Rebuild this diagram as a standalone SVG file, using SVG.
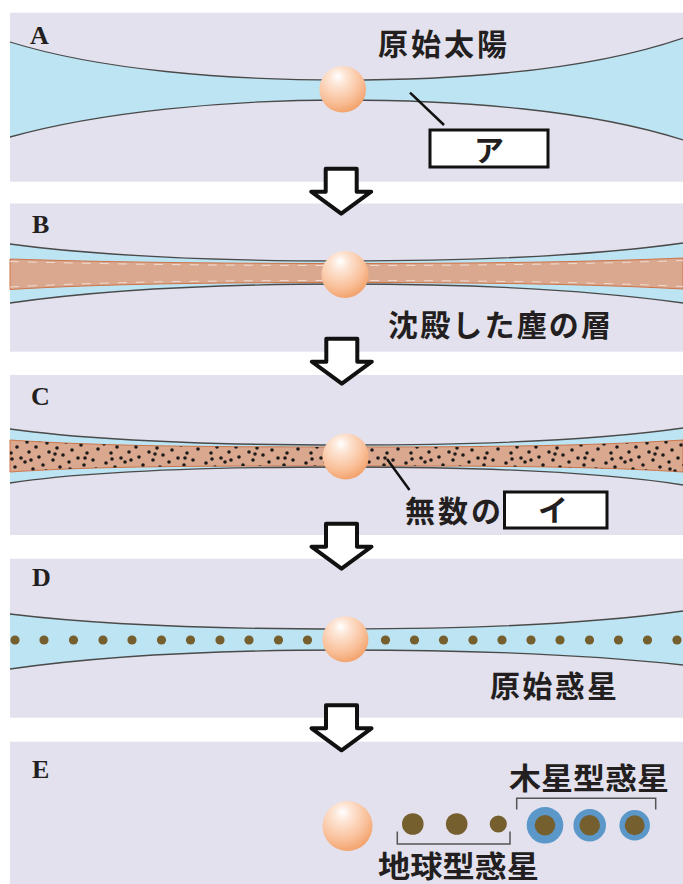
<svg xmlns="http://www.w3.org/2000/svg" width="683" height="884" viewBox="0 0 683 884">
  <defs>
    <style>
      .panel { fill: #e3e1ee; }
      .disk { fill: #bce4f3; }
      .edge { fill: none; stroke: #4a4a4a; stroke-width: 1.3; }
      .dust { fill: #d9a88f; stroke: #cf7448; stroke-width: 1; }
      .dash { fill: none; stroke: #ffffff; stroke-width: 1; stroke-dasharray: 9 9; opacity: 0.6; }
      .tag { font-family: "Liberation Serif", "DejaVu Serif", serif; font-size: 26px; font-weight: bold; fill: #231f20; }
      .jp { font-family: "Noto Sans CJK JP", "Noto Sans CJK SC", sans-serif; font-size: 30px; font-weight: bold; fill: #231f20; }
      .box { fill: #ffffff; stroke: #111111; stroke-width: 3; }
      .lead { stroke: #111111; stroke-width: 2.5; fill: none; }
      .arrow { fill: #ffffff; stroke: #111111; stroke-width: 4; stroke-linejoin: round; }
      .rock { fill: #765f2f; }
      .gas { fill: #5b98c9; }
      .brace { fill: none; stroke: #555555; stroke-width: 1.5; }
    </style>
    <radialGradient id="sunGrad" cx="0.38" cy="0.3" r="0.8" fx="0.4" fy="0.22">
      <stop offset="0" stop-color="#ffffff"/>
      <stop offset="0.22" stop-color="#fde5d5"/>
      <stop offset="0.65" stop-color="#f9bf98"/>
      <stop offset="1" stop-color="#f0985c"/>
    </radialGradient>
    <pattern id="grains" patternUnits="userSpaceOnUse" x="0" y="438" width="100" height="36">
      <g fill="#1e1a1a">
        <circle cx="4" cy="6" r="1.8"/><circle cx="11" cy="15" r="1.8"/><circle cx="6" cy="25" r="1.8"/>
        <circle cx="2" cy="32" r="1.8"/><circle cx="17" cy="9" r="1.8"/><circle cx="21" cy="20" r="1.8"/>
        <circle cx="15" cy="29" r="1.8"/><circle cx="27" cy="4" r="1.8"/><circle cx="29" cy="14" r="1.8"/>
        <circle cx="25" cy="24" r="1.8"/><circle cx="33" cy="31" r="1.8"/><circle cx="36" cy="9" r="1.8"/>
        <circle cx="39" cy="19" r="1.8"/><circle cx="43" cy="27" r="1.8"/><circle cx="47" cy="5" r="1.8"/>
        <circle cx="49" cy="14" r="1.8"/><circle cx="46" cy="33" r="1.8"/><circle cx="53" cy="22" r="1.8"/>
        <circle cx="57" cy="10" r="1.8"/><circle cx="60" cy="29" r="1.8"/><circle cx="63" cy="17" r="1.8"/>
        <circle cx="66" cy="4" r="1.8"/><circle cx="69" cy="24" r="1.8"/><circle cx="72" cy="12" r="1.8"/>
        <circle cx="75" cy="33" r="1.8"/><circle cx="78" cy="20" r="1.8"/><circle cx="81" cy="7" r="1.8"/>
        <circle cx="84" cy="27" r="1.8"/><circle cx="87" cy="15" r="1.8"/><circle cx="90" cy="3" r="1.8"/>
        <circle cx="93" cy="22" r="1.8"/><circle cx="96" cy="31" r="1.8"/><circle cx="98" cy="11" r="1.8"/>
        <circle cx="31" cy="22" r="1.8"/><circle cx="55" cy="16" r="1.8"/><circle cx="70" cy="31" r="1.8"/>
        <circle cx="12" cy="21" r="1.8"/><circle cx="40" cy="2" r="1.8"/><circle cx="85" cy="20" r="1.8"/>
      </g>
    </pattern>
    <path id="downArrow" d="M-15.5,0 H15.5 V23 H30 L0,45 L-30,23 H-15.5 Z"/>
  </defs>

  <!-- Stage A: gas disk around the proto-sun -->
  <g id="panel-a">
    <rect class="panel" x="10" y="12.7" width="673" height="169"/>
    <path class="disk" d="M10,42 C100,70 225,80 342,80 C460,80 590,70 683,38 L683,140 C590,110 460,100 342,100 C225,100 100,112 10,137 Z"/>
    <path class="edge" d="M10,42 C100,70 225,80 342,80 C460,80 590,70 683,38"/>
    <path class="edge" d="M10,137 C100,112 225,100 342,100 C460,100 590,110 683,140"/>
    <text class="tag" x="30" y="44">A</text>
    <circle cx="342.7" cy="89.3" r="23.3" fill="url(#sunGrad)"/>
    <text class="jp" x="378" y="54.5" textLength="129" lengthAdjust="spacing">原始太陽</text>
  </g>
  <g id="label-a">
    <line class="lead" x1="410" y1="92.7" x2="444" y2="125"/>
    <rect class="box" x="430" y="130" width="118" height="37"/>
    <text class="jp" x="489" y="161" text-anchor="middle">ア</text>
  </g>

  <!-- Stage B: dust settling to the mid-plane -->
  <g id="panel-b">
    <rect class="panel" x="10" y="203.5" width="673" height="148.2"/>
    <path class="disk" d="M10,244 C100,256 210,261 345,261 C480,261 590,256 683,243 L683,303 C590,290 480,284 345,284 C210,284 100,290 10,303 Z"/>
    <path class="dust" d="M10,259 C100,262 210,263.5 345,263.5 C480,263.5 590,262 683,258 L683,289 C590,284 480,282.5 345,282.5 C210,282.5 100,284 10,289.5 Z"/>
    <path class="dash" d="M10,261.5 C100,264 210,265.5 345,265.5 C480,265.5 590,264 683,260.5"/>
    <path class="dash" d="M10,287 C100,282 210,280.5 345,280.5 C480,280.5 590,282 683,286.5"/>
    <path class="edge" d="M10,244 C100,256 210,261 345,261 C480,261 590,256 683,243"/>
    <path class="edge" d="M10,303 C100,290 210,284 345,284 C480,284 590,290 683,303"/>
    <text class="tag" x="32" y="233">B</text>
    <circle cx="345" cy="274.5" r="23.5" fill="url(#sunGrad)"/>
    <text class="jp" x="388" y="336" textLength="223" lengthAdjust="spacing">沈殿した塵の層</text>
  </g>

  <!-- Stage C: countless planetesimals in the dust layer -->
  <g id="panel-c">
    <rect class="panel" x="10" y="375" width="673" height="160"/>
    <path class="disk" d="M10,429 C90,440 200,445 345,445 C490,445 600,440 683,428 L683,485 C600,472 490,467 345,467 C200,467 90,471 10,483 Z"/>
    <path class="dust" d="M10,440 C100,446 200,447 345,447 C490,447 590,446 683,440 L683,472 C590,466 490,466 345,466 C200,466 100,466 10,472 Z"/>
    <path d="M10,440 C100,446 200,447 345,447 C490,447 590,446 683,440 L683,472 C590,466 490,466 345,466 C200,466 100,466 10,472 Z" fill="url(#grains)"/>
    <path class="edge" d="M10,429 C90,440 200,445 345,445 C490,445 600,440 683,428"/>
    <path class="edge" d="M10,483 C90,471 200,467 345,467 C490,467 600,472 683,485"/>
    <text class="tag" x="31" y="405">C</text>
    <circle cx="345.7" cy="456.5" r="23" fill="url(#sunGrad)"/>
  </g>
  <g id="label-c">
    <line class="lead" x1="387" y1="459" x2="409.5" y2="490"/>
    <text class="jp" x="405" y="522" textLength="96" lengthAdjust="spacing">無数の</text>
    <rect class="box" x="504.5" y="492" width="102.5" height="36"/>
    <text class="jp" x="553" y="521" text-anchor="middle">イ</text>
  </g>

  <!-- Stage D: protoplanets lined up in the disk -->
  <g id="panel-d">
    <rect class="panel" x="10" y="558.7" width="673" height="159"/>
    <path class="disk" d="M10,614 C100,625 210,629 345,629 C480,629 590,624 683,611 L683,665 C590,655 480,650 345,650 C210,650 100,656 10,669 Z"/>
    <path class="edge" d="M10,614 C100,625 210,629 345,629 C480,629 590,624 683,611"/>
    <path class="edge" d="M10,669 C100,656 210,650 345,650 C480,650 590,655 683,665"/>
    <g class="rock">
      <circle cx="15" cy="640" r="4.6"/><circle cx="44" cy="640" r="4.6"/><circle cx="73.5" cy="640" r="4.6"/>
      <circle cx="103" cy="640" r="4.6"/><circle cx="132" cy="640" r="4.6"/><circle cx="161.5" cy="640" r="4.6"/>
      <circle cx="190.5" cy="640" r="4.6"/><circle cx="220" cy="640" r="4.6"/><circle cx="249" cy="640" r="4.6"/>
      <circle cx="278.5" cy="640" r="4.6"/><circle cx="307.5" cy="640" r="4.6"/>
      <circle cx="385.5" cy="640" r="4.6"/><circle cx="414.5" cy="640" r="4.6"/><circle cx="443.5" cy="640" r="4.6"/>
      <circle cx="473" cy="640" r="4.6"/><circle cx="502" cy="640" r="4.6"/><circle cx="531" cy="640" r="4.6"/>
      <circle cx="560" cy="640" r="4.6"/><circle cx="589.5" cy="640" r="4.6"/><circle cx="618.5" cy="640" r="4.6"/>
      <circle cx="647.5" cy="640" r="4.6"/><circle cx="677" cy="640" r="4.6"/>
    </g>
    <text class="tag" x="32" y="586">D</text>
    <circle cx="345.4" cy="639.3" r="23" fill="url(#sunGrad)"/>
    <text class="jp" x="490" y="697" textLength="127" lengthAdjust="spacing">原始惑星</text>
  </g>

  <!-- Stage E: the finished planetary system -->
  <g id="panel-e">
    <rect class="panel" x="10" y="741.7" width="673" height="142.3"/>
    <text class="tag" x="32" y="778">E</text>
    <circle cx="347.5" cy="826" r="25" fill="url(#sunGrad)"/>
  </g>
  <g id="terrestrial">
    <circle class="rock" cx="412.8" cy="824" r="10.8"/>
    <circle class="rock" cx="456.7" cy="824" r="10.8"/>
    <circle class="rock" cx="498.3" cy="824" r="8.6"/>
    <path class="brace" d="M397.3,831.5 V844 H510 V831.5"/>
    <text class="jp" x="378" y="876.5" font-size="29" textLength="161" lengthAdjust="spacingAndGlyphs">地球型惑星</text>
  </g>
  <g id="jovian">
    <circle class="gas" cx="545" cy="825.3" r="18.3"/>
    <circle class="rock" cx="545" cy="825.3" r="10.3"/>
    <circle class="gas" cx="589.7" cy="825.3" r="16.3"/>
    <circle class="rock" cx="589.7" cy="825.3" r="10.3"/>
    <circle class="gas" cx="634.7" cy="825.3" r="15.3"/>
    <circle class="rock" cx="634.7" cy="825.3" r="10"/>
    <path class="brace" d="M516.7,809.5 V798.3 H655.7 V809.5"/>
    <text class="jp" x="509" y="789" font-size="26" textLength="160" lengthAdjust="spacingAndGlyphs">木星型惑星</text>
  </g>

  <!-- Stage-to-stage arrows -->
  <g id="connectors">
    <use href="#downArrow" class="arrow" transform="translate(341.2,168.7)"/>
    <use href="#downArrow" class="arrow" transform="translate(341.8,338.7)"/>
    <use href="#downArrow" class="arrow" transform="translate(341.5,523.7)"/>
    <use href="#downArrow" class="arrow" transform="translate(341.5,705.3)"/>
  </g>
</svg>
